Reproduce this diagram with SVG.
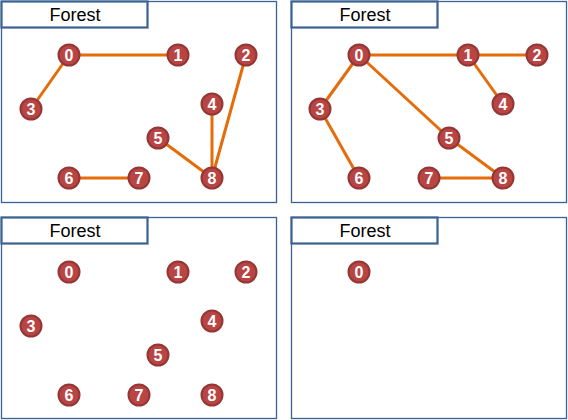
<svg xmlns="http://www.w3.org/2000/svg" width="568" height="420" viewBox="0 0 568 420">
<defs>
<style>
.panel{fill:#fff;stroke:#3B6192;stroke-width:1.3}
.title{fill:#fff;stroke:#3B6192;stroke-width:2.2}
.ttext{font-family:"Liberation Sans",Arial,sans-serif;font-size:18px;fill:#000;text-anchor:middle}
.edge{stroke:#E46C0A;stroke-width:3;fill:none}
.node circle{fill:#B84543;stroke:#943634;stroke-width:2}
.node text{font-family:"Liberation Sans",Arial,sans-serif;font-size:16px;font-weight:bold;fill:#fff;text-anchor:middle}
</style>
</defs>
<g id="panels">
<rect class="panel" x="1.5" y="1.5" width="275" height="201"/>
<rect class="panel" x="291.5" y="1.5" width="275" height="201"/>
<rect class="panel" x="1.5" y="217.5" width="275" height="201"/>
<rect class="panel" x="291.5" y="217.5" width="275" height="201"/>
<rect class="title" x="1.5" y="1.5" width="146" height="26"/>
<rect class="title" x="291.5" y="1.5" width="146" height="26"/>
<rect class="title" x="1.5" y="217.5" width="146" height="26"/>
<rect class="title" x="291.5" y="217.5" width="146" height="26"/>
<text class="ttext" x="75" y="21">Forest</text>
<text class="ttext" x="365" y="21">Forest</text>
<text class="ttext" x="75" y="237">Forest</text>
<text class="ttext" x="365" y="237">Forest</text>
</g>
<g id="connectors">
<line class="edge" x1="69" y1="55" x2="178" y2="55"/>
<line class="edge" x1="69" y1="55" x2="31" y2="109"/>
<line class="edge" x1="212" y1="104" x2="212" y2="178"/>
<line class="edge" x1="158" y1="138" x2="212" y2="178"/>
<line class="edge" x1="246" y1="55" x2="212" y2="178"/>
<line class="edge" x1="69" y1="178" x2="139" y2="178"/>
<line class="edge" x1="359" y1="55" x2="537" y2="55"/>
<line class="edge" x1="468" y1="55" x2="503" y2="104"/>
<line class="edge" x1="359" y1="55" x2="320" y2="109"/>
<line class="edge" x1="320" y1="109" x2="359" y2="178"/>
<line class="edge" x1="359" y1="55" x2="449" y2="138"/>
<line class="edge" x1="449" y1="138" x2="503" y2="178"/>
<line class="edge" x1="429" y1="178" x2="503" y2="178"/>
</g>
<g id="n-a0" class="node"><circle cx="69" cy="55" r="10.5"/><text x="69" y="60.5">0</text></g>
<g id="n-a1" class="node"><circle cx="178" cy="55" r="10.5"/><text x="178" y="60.5">1</text></g>
<g id="n-a2" class="node"><circle cx="246" cy="55" r="10.5"/><text x="246" y="60.5">2</text></g>
<g id="n-a3" class="node"><circle cx="31" cy="109" r="10.5"/><text x="31" y="114.5">3</text></g>
<g id="n-a4" class="node"><circle cx="212" cy="104" r="10.5"/><text x="212" y="109.5">4</text></g>
<g id="n-a5" class="node"><circle cx="158" cy="138" r="10.5"/><text x="158" y="143.5">5</text></g>
<g id="n-a6" class="node"><circle cx="69" cy="178" r="10.5"/><text x="69" y="183.5">6</text></g>
<g id="n-a7" class="node"><circle cx="139" cy="178" r="10.5"/><text x="139" y="183.5">7</text></g>
<g id="n-a8" class="node"><circle cx="212" cy="178" r="10.5"/><text x="212" y="183.5">8</text></g>
<g id="n-b0" class="node"><circle cx="359" cy="55" r="10.5"/><text x="359" y="60.5">0</text></g>
<g id="n-b1" class="node"><circle cx="468" cy="55" r="10.5"/><text x="468" y="60.5">1</text></g>
<g id="n-b2" class="node"><circle cx="537" cy="55" r="10.5"/><text x="537" y="60.5">2</text></g>
<g id="n-b3" class="node"><circle cx="320" cy="109" r="10.5"/><text x="320" y="114.5">3</text></g>
<g id="n-b4" class="node"><circle cx="503" cy="104" r="10.5"/><text x="503" y="109.5">4</text></g>
<g id="n-b5" class="node"><circle cx="449" cy="138" r="10.5"/><text x="449" y="143.5">5</text></g>
<g id="n-b6" class="node"><circle cx="359" cy="178" r="10.5"/><text x="359" y="183.5">6</text></g>
<g id="n-b7" class="node"><circle cx="429" cy="178" r="10.5"/><text x="429" y="183.5">7</text></g>
<g id="n-b8" class="node"><circle cx="503" cy="178" r="10.5"/><text x="503" y="183.5">8</text></g>
<g id="n-c0" class="node"><circle cx="69" cy="272" r="10.5"/><text x="69" y="277.5">0</text></g>
<g id="n-c1" class="node"><circle cx="178" cy="272" r="10.5"/><text x="178" y="277.5">1</text></g>
<g id="n-c2" class="node"><circle cx="246" cy="272" r="10.5"/><text x="246" y="277.5">2</text></g>
<g id="n-c3" class="node"><circle cx="31" cy="326" r="10.5"/><text x="31" y="331.5">3</text></g>
<g id="n-c4" class="node"><circle cx="212" cy="321" r="10.5"/><text x="212" y="326.5">4</text></g>
<g id="n-c5" class="node"><circle cx="158" cy="355" r="10.5"/><text x="158" y="360.5">5</text></g>
<g id="n-c6" class="node"><circle cx="69" cy="395" r="10.5"/><text x="69" y="400.5">6</text></g>
<g id="n-c7" class="node"><circle cx="139" cy="395" r="10.5"/><text x="139" y="400.5">7</text></g>
<g id="n-c8" class="node"><circle cx="212" cy="395" r="10.5"/><text x="212" y="400.5">8</text></g>
<g id="n-d0" class="node"><circle cx="359" cy="272" r="10.5"/><text x="359" y="277.5">0</text></g>
</svg>
